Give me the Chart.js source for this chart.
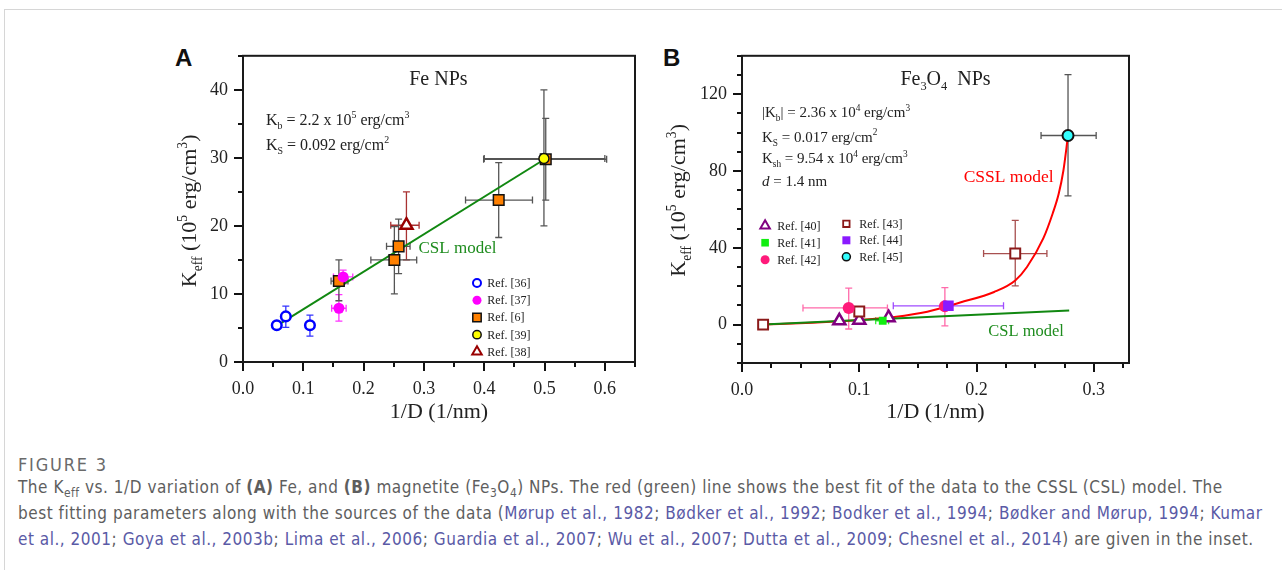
<!DOCTYPE html>
<html>
<head>
<meta charset="utf-8">
<script src="https://cdn.jsdelivr.net/npm/chart.js@4.4.0/dist/chart.umd.min.js"></script>
<style>
  body { margin: 0; width: 1282px; height: 570px; background: #fff; overflow: hidden; position: relative; }
  #frame { position: absolute; left: 4px; top: 9px; right: 0; bottom: 0; border-top: 1px solid #d6d6d6; border-left: 1px solid #d6d6d6; }
  .box { position: absolute; top: 30px; height: 410px; }
  #boxA { left: 160px; width: 500px; }
  #boxB { left: 650px; width: 500px; }
  .lett { position: absolute; font: bold 24px "Liberation Sans", Arial, sans-serif; color: #111; }
  .cap { position: absolute; left: 18px; white-space: nowrap; font-family: "Liberation Sans Narrow", "DejaVu Sans Condensed", "Liberation Sans", sans-serif; font-size: 17px; line-height: 26px; color: #5e5e5e; }
  .cap a { color: #5a5aa6; text-decoration: none; }
  .cap sub { font-size: 0.7em; line-height: 0; }
</style>
</head>
<body>
<div id="frame"></div>
<div class="lett" style="left:175px;top:44px">A</div>
<div class="lett" style="left:663px;top:44px">B</div>
<div class="box" id="boxA"><canvas id="chartA"></canvas></div>
<div class="box" id="boxB"><canvas id="chartB"></canvas></div>

<div class="cap" id="cap0" style="top:452px;color:#6a6a6a;font-size:18px">FIGURE 3</div>
<div class="cap" id="cap1" style="top:474px">The K<sub>eff</sub> vs. 1/D variation of <b>(A)</b> Fe, and <b>(B)</b> magnetite (Fe<sub>3</sub>O<sub>4</sub>) NPs. The red (green) line shows the best fit of the data to the CSSL (CSL) model. The</div>
<div class="cap" id="cap2" style="top:500px">best fitting parameters along with the sources of the data (<a>Mørup et al., 1982</a>; <a>Bødker et al., 1992</a>; <a>Bodker et al., 1994</a>; <a>Bødker and Mørup, 1994</a>; <a>Kumar</a></div>
<div class="cap" id="cap3" style="top:526px"><a>et al., 2001</a>; <a>Goya et al., 2003b</a>; <a>Lima et al., 2006</a>; <a>Guardia et al., 2007</a>; <a>Wu et al., 2007</a>; <a>Dutta et al., 2009</a>; <a>Chesnel et al., 2014</a>) are given in the inset.</div>

<script>
// ---------- panel A : Fe NPs ----------
const ref36X = [0.056, 0.071, 0.111];
const ref36Y = [5.4, 6.7, 5.4];
const ref36YLo = [null, 5.1, 3.8];
const ref36YHi = [null, 8.2, 6.9];

const ref37X = [0.159, 0.166];
const ref37Y = [7.9, 12.5];
const ref37YLo = [6.0, 11.5];
const ref37YHi = [9.9, 13.5];
const ref37XLo = [0.147, 0.150];
const ref37XHi = [0.171, 0.182];

const ref6X = [0.159, 0.251, 0.258, 0.424, 0.502];
const ref6Y = [11.9, 15.0, 17.0, 23.8, 29.8];
const ref6YLo = [9.0, 10.0, 13.0, 18.3, 23.8];
const ref6YHi = [15.0, 19.9, 21.0, 29.3, 35.8];
const ref6XLo = [0.146, 0.212, 0.238, 0.369, 0.399];
const ref6XHi = [0.174, 0.288, 0.277, 0.480, 0.603];

const ref39X = [0.499];
const ref39Y = [29.9];
const ref39YLo = [20.0];
const ref39YHi = [40.0];
const ref39XLo = [0.400];
const ref39XHi = [0.600];

const ref38X = [0.271];
const ref38Y = [20.1];
const ref38YLo = [15.0];
const ref38YHi = [25.0];
const ref38XLo = [0.245];
const ref38XHi = [0.292];

const cslAX = [0.061, 0.5];
const cslAY = [5.6, 29.8];

// ---------- panel B : Fe3O4 NPs ----------
const ref40X = [0.083, 0.100, 0.125];
const ref40Y = [2.0, 2.3, 3.6];

const ref41X = [0.120];
const ref41Y = [2.0];
const ref41XLo = [0.114];
const ref41XHi = [0.125];

const ref42X = [0.091, 0.173];
const ref42Y = [8.7, 9.5];
const ref42YLo = [-2.3, -0.7];
const ref42YHi = [19.0, 19.3];
const ref42XLo = [0.052, null];
const ref42XHi = [0.124, null];

const ref43X = [0.018, 0.100, 0.233];
const ref43Y = [0.0, 6.8, 37.0];
const ref43YLo = [null, null, 20.2];
const ref43YHi = [null, null, 54.3];
const ref43XLo = [null, null, 0.206];
const ref43XHi = [null, null, 0.260];

const ref44X = [0.176];
const ref44Y = [9.8];
const ref44XLo = [0.129];
const ref44XHi = [0.223];

const ref45X = [0.278];
const ref45Y = [98.5];
const ref45YLo = [67.0];
const ref45YHi = [130.2];
const ref45XLo = [0.255];
const ref45XHi = [0.302];

const cslBX = [0.018, 0.279];
const cslBY = [0.0, 7.3];

const csslX = [0.018, 0.06, 0.10, 0.13, 0.158, 0.186, 0.215, 0.233, 0.243, 0.257, 0.265, 0.270, 0.274, 0.278];
const csslY = [0.0, 1.0, 2.4, 4.0, 6.7, 11.5, 17.0, 23.0, 30.0, 45.0, 58.0, 68.0, 80.0, 98.5];

// ---------- helpers ----------
const SERIF = "'Liberation Serif', 'Times New Roman', serif";
Chart.defaults.font.family = SERIF;
Chart.defaults.color = '#222';

function pts(xs, ys) {
  return xs.map((x, i) => ({ x: x, y: ys[i] }));
}

function richText(ctx, parts, x, y, size, align, color) {
  const segs = parts.map(p => {
    const k = p[1];
    const small = k === 'sub' || k === 'sup';
    const font = (k === 'i' ? 'italic ' : '') + (small ? size * 0.62 : size) + 'px ' + SERIF;
    ctx.font = font;
    return { t: p[0], font: font, w: ctx.measureText(p[0]).width,
             dy: k === 'sub' ? size * 0.25 : k === 'sup' ? -size * 0.42 : 0 };
  });
  const total = segs.reduce((s, g) => s + g.w, 0);
  let cx = align === 'center' ? x - total / 2 : x;
  const base = y + size * 0.33;
  ctx.fillStyle = color;
  ctx.textAlign = 'left';
  ctx.textBaseline = 'alphabetic';
  segs.forEach(g => { ctx.font = g.font; ctx.fillText(g.t, cx, base + g.dy); cx += g.w; });
}

function marker(ctx, m, x, y) {
  ctx.beginPath();
  if (m.style === 'circle') ctx.arc(x, y, m.r, 0, Math.PI * 2);
  else if (m.style === 'rect') ctx.rect(x - m.r, y - m.r, m.r * 2, m.r * 2);
  else {
    ctx.moveTo(x, y - m.r);
    ctx.lineTo(x + m.r * 0.866, y + m.r * 0.5);
    ctx.lineTo(x - m.r * 0.866, y + m.r * 0.5);
    ctx.closePath();
  }
  if (m.fill) { ctx.fillStyle = m.fill; ctx.fill(); }
  if (m.lw) { ctx.lineWidth = m.lw; ctx.strokeStyle = m.stroke; ctx.stroke(); }
}

// error bars under the markers
const errorBars = {
  id: 'errorBars',
  beforeDatasetsDraw(chart) {
    const { ctx, scales: { x, y } } = chart;
    const cap = 3.5;
    ctx.save();
    ctx.lineWidth = 1.3;
    chart.data.datasets.forEach(ds => {
      const e = ds.err;
      if (!e) return;
      ctx.strokeStyle = e.color;
      ctx.beginPath();
      ds.data.forEach((p, i) => {
        const px = x.getPixelForValue(p.x), py = y.getPixelForValue(p.y);
        if (e.yLo && e.yLo[i] != null) {
          const a = y.getPixelForValue(e.yLo[i]), b = y.getPixelForValue(e.yHi[i]);
          ctx.moveTo(px, a); ctx.lineTo(px, b);
          ctx.moveTo(px - cap, a); ctx.lineTo(px + cap, a);
          ctx.moveTo(px - cap, b); ctx.lineTo(px + cap, b);
        }
        if (e.xLo && e.xLo[i] != null) {
          const a = x.getPixelForValue(e.xLo[i]), b = x.getPixelForValue(e.xHi[i]);
          ctx.moveTo(a, py); ctx.lineTo(b, py);
          ctx.moveTo(a, py - cap); ctx.lineTo(a, py + cap);
          ctx.moveTo(b, py - cap); ctx.lineTo(b, py + cap);
        }
      });
      ctx.stroke();
    });
    ctx.restore();
  }
};

// box frame + major/minor ticks
const frame = {
  id: 'frame',
  afterDatasetsDraw(chart, args, o) {
    const { ctx, chartArea: a, scales } = chart;
    ctx.save();
    ctx.strokeStyle = '#111';
    ctx.lineWidth = 2;
    ctx.beginPath();
    const run = (sc, step, major, horiz) => {
      const n = Math.floor((sc.max - sc.min) / step + 1e-6);
      for (let i = 0; i <= n; i++) {
        const v = sc.min + i * step;
        const len = Math.abs(v / major - Math.round(v / major)) < 1e-6 ? 9 : 5;
        const p = Math.round(sc.getPixelForValue(v));
        if (horiz) { ctx.moveTo(p, a.bottom); ctx.lineTo(p, a.bottom + len); }
        else { ctx.moveTo(a.left, p); ctx.lineTo(a.left - len, p); }
      }
    };
    run(scales.x, o.xMinor, o.xMajor, true);
    run(scales.y, o.yMinor, o.yMajor, false);
    ctx.stroke();
    ctx.strokeStyle = '#1a1a1a';
    ctx.strokeRect(a.left, a.top, a.right - a.left, a.bottom - a.top);
    ctx.restore();
  }
};

// texts, inset legend and rotated y title
const notes = {
  id: 'notes',
  afterDraw(chart, args, o) {
    const { ctx, chartArea: a, scales: { x, y } } = chart;
    ctx.save();
    (o.texts || []).forEach(t => {
      richText(ctx, t.parts, x.getPixelForValue(t.x), y.getPixelForValue(t.y), t.size, t.align || 'left', t.color || '#222');
    });
    (o.legend || []).forEach(col => {
      col.items.forEach((it, i) => {
        const py = y.getPixelForValue(col.y) + i * col.step;
        marker(ctx, it.m, x.getPixelForValue(col.mx), py);
        richText(ctx, [[it.label]], x.getPixelForValue(col.tx), py, col.size, 'left', '#222');
      });
    });
    ctx.translate(a.left + o.yTitle.dx, (a.top + a.bottom) / 2 + o.yTitle.dy);
    ctx.rotate(-Math.PI / 2);
    richText(ctx, [['K'], ['eff', 'sub'], [' (10'], ['5', 'sup'], [' erg/cm'], ['3', 'sup'], [')']], 0, 0, 22, 'center', '#222');
    ctx.restore();
  }
};

function axes(xMin, xMax, xStep, xLab, yMin, yMax, yStep, yLab, yWidth, xHeight) {
  return {
    x: {
      type: 'linear', min: xMin, max: xMax,
      grid: { display: false, drawTicks: false }, border: { display: false },
      ticks: { stepSize: xStep, autoSkip: false, maxRotation: 0, padding: 16, font: { size: 18 }, color: '#222', callback: xLab },
      title: { display: true, text: '1/D (1/nm)', font: { size: 22 }, color: '#222', padding: { top: 0, bottom: 15 } },
      afterFit: s => { s.height = xHeight; }
    },
    y: {
      type: 'linear', min: yMin, max: yMax,
      grid: { display: false, drawTicks: false }, border: { display: false },
      ticks: { stepSize: yStep, autoSkip: false, padding: 15, font: { size: 18 }, color: '#222', callback: yLab },
      afterFit: s => { s.width = yWidth; }
    }
  };
}

const tenth = v => Math.abs(v * 10 - Math.round(v * 10)) < 1e-6 ? v.toFixed(1) : '';

// ---------- chart A ----------
new Chart(document.getElementById('chartA'), {
  type: 'scatter',
  data: {
    datasets: [
      { data: pts(ref39X, ref39Y), pointStyle: 'circle', pointRadius: 5, backgroundColor: '#ffff00', borderColor: '#111', borderWidth: 1.5,
        err: { xLo: ref39XLo, xHi: ref39XHi, yLo: ref39YLo, yHi: ref39YHi, color: '#555' } },
      { data: pts(ref38X, ref38Y), pointStyle: 'triangle', pointRadius: 7, backgroundColor: '#fff', borderColor: '#990000', borderWidth: 2.5,
        err: { xLo: ref38XLo, xHi: ref38XHi, yLo: ref38YLo, yHi: ref38YHi, color: '#a83232' } },
      { data: pts(ref37X, ref37Y), pointStyle: 'circle', pointRadius: 5.5, backgroundColor: '#ff00ff', borderColor: '#ff00ff', borderWidth: 0,
        err: { xLo: ref37XLo, xHi: ref37XHi, yLo: ref37YLo, yHi: ref37YHi, color: '#ff33ff' } },
      { data: pts(ref6X, ref6Y), pointStyle: 'rect', pointRadius: 7.5, backgroundColor: '#ff8000', borderColor: '#111', borderWidth: 1.5,
        err: { xLo: ref6XLo, xHi: ref6XHi, yLo: ref6YLo, yHi: ref6YHi, color: '#555' } },
      { data: pts(ref36X, ref36Y), pointStyle: 'circle', pointRadius: 4.8, backgroundColor: '#fff', borderColor: '#0000ff', borderWidth: 2.5,
        err: { yLo: ref36YLo, yHi: ref36YHi, color: '#3333ff' } },
      { data: pts(cslAX, cslAY), showLine: true, pointRadius: 0, borderColor: '#118811', borderWidth: 2 }
    ]
  },
  options: {
    animation: false, responsive: true, maintainAspectRatio: false, events: [],
    layout: { padding: { top: 14, right: 25, bottom: 0, left: 0 } },
    scales: axes(0, 0.65, 0.05, tenth, 0, 45, 5, v => v % 10 === 0 ? v : '', 83, 78),
    plugins: {
      legend: { display: false }, tooltip: { enabled: false },
      frame: { xMinor: 0.05, xMajor: 0.1, yMinor: 5, yMajor: 10 },
      notes: {
        yTitle: { dx: -54, dy: 2 },
        texts: [
          { x: 0.324, y: 41.7, size: 20, align: 'center', parts: [['Fe NPs']] },
          { x: 0.038, y: 35.6, size: 16, parts: [['K'], ['b', 'sub'], [' = 2.2 x 10'], ['5', 'sup'], [' erg/cm'], ['3', 'sup']] },
          { x: 0.038, y: 32.0, size: 16, parts: [['K'], ['S', 'sub'], [' = 0.092 erg/cm'], ['2', 'sup']] },
          { x: 0.291, y: 16.8, size: 17, color: '#1e8c1e', parts: [['CSL model']] }
        ],
        legend: [
          { mx: 0.388, tx: 0.405, y: 11.6, step: 17.2, size: 12, items: [
            { label: 'Ref. [36]', m: { style: 'circle', r: 4, fill: '#fff', stroke: '#0000ff', lw: 2 } },
            { label: 'Ref. [37]', m: { style: 'circle', r: 4.5, fill: '#ff00ff' } },
            { label: 'Ref. [6]', m: { style: 'rect', r: 4.2, fill: '#ff8000', stroke: '#111', lw: 1.5 } },
            { label: 'Ref. [39]', m: { style: 'circle', r: 4.2, fill: '#ffff00', stroke: '#111', lw: 1.5 } },
            { label: 'Ref. [38]', m: { style: 'triangle', r: 5.5, fill: '#fff', stroke: '#990000', lw: 2 } }
          ] }
        ]
      }
    }
  },
  plugins: [errorBars, frame, notes]
});

// ---------- chart B ----------
new Chart(document.getElementById('chartB'), {
  type: 'scatter',
  data: {
    datasets: [
      { data: pts(ref45X, ref45Y), pointStyle: 'circle', pointRadius: 5.5, backgroundColor: '#33ffff', borderColor: '#111', borderWidth: 2,
        err: { xLo: ref45XLo, xHi: ref45XHi, yLo: ref45YLo, yHi: ref45YHi, color: '#555' } },
      { data: pts(ref44X, ref44Y), pointStyle: 'rect', pointRadius: 7.5, backgroundColor: '#8a1aff', borderColor: '#8a1aff', borderWidth: 0,
        err: { xLo: ref44XLo, xHi: ref44XHi, color: '#a04cff' } },
      { data: pts(ref42X, ref42Y), pointStyle: 'circle', pointRadius: 6, backgroundColor: '#ff1a7a', borderColor: '#ff1a7a', borderWidth: 0,
        err: { xLo: ref42XLo, xHi: ref42XHi, yLo: ref42YLo, yHi: ref42YHi, color: '#ff6aaa' } },
      { data: pts(ref43X, ref43Y), pointStyle: 'rect', pointRadius: 7, backgroundColor: '#fff', borderColor: '#8b1a1a', borderWidth: 2,
        err: { xLo: ref43XLo, xHi: ref43XHi, yLo: ref43YLo, yHi: ref43YHi, color: '#a85050' } },
      { data: pts(ref41X, ref41Y), pointStyle: 'rect', pointRadius: 5.5, backgroundColor: '#11ee11', borderColor: '#11ee11', borderWidth: 0,
        err: { xLo: ref41XLo, xHi: ref41XHi, color: '#33ee33' } },
      { data: pts(ref40X, ref40Y), pointStyle: 'triangle', pointRadius: 7, backgroundColor: '#fff', borderColor: '#800080', borderWidth: 2.5 },
      { data: pts(cslBX, cslBY), showLine: true, pointRadius: 0, borderColor: '#118811', borderWidth: 2 },
      { data: pts(csslX, csslY), showLine: true, pointRadius: 0, borderColor: '#ff0000', borderWidth: 2, cubicInterpolationMode: 'monotone' }
    ]
  },
  options: {
    animation: false, responsive: true, maintainAspectRatio: false, events: [],
    layout: { padding: { top: 13, right: 21, bottom: 0, left: 0 } },
    scales: axes(0, 0.33, 0.025, tenth, -20, 140, 10, v => v % 40 === 0 ? v : '', 92, 77),
    plugins: {
      legend: { display: false }, tooltip: { enabled: false },
      frame: { xMinor: 0.025, xMajor: 0.1, yMinor: 10, yMajor: 40 },
      notes: {
        yTitle: { dx: -64, dy: -9 },
        texts: [
          { x: 0.1735, y: 128, size: 20, align: 'center', parts: [['Fe'], ['3', 'sub'], ['O'], ['4', 'sub'], ['  NPs']] },
          { x: 0.017, y: 110.6, size: 15, parts: [['|K'], ['b', 'sub'], ['| = 2.36 x 10'], ['4', 'sup'], [' erg/cm'], ['3', 'sup']] },
          { x: 0.017, y: 97.8, size: 15, parts: [['K'], ['S', 'sub'], [' = 0.017 erg/cm'], ['2', 'sup']] },
          { x: 0.017, y: 86.5, size: 15, parts: [['K'], ['sh', 'sub'], [' = 9.54 x 10'], ['4', 'sup'], [' erg/cm'], ['3', 'sup']] },
          { x: 0.017, y: 74.8, size: 15, parts: [['d', 'i'], [' = 1.4 nm']] },
          { x: 0.189, y: 77.5, size: 17.5, color: '#ff0000', parts: [['CSSL model']] },
          { x: 0.210, y: -3.0, size: 16.5, color: '#1e8c1e', parts: [['CSL model']] }
        ],
        legend: [
          { mx: 0.0197, tx: 0.030, y: 51.5, step: 17, size: 12, items: [
            { label: 'Ref. [40]', m: { style: 'triangle', r: 5.5, fill: '#fff', stroke: '#800080', lw: 2 } },
            { label: 'Ref. [41]', m: { style: 'rect', r: 3.8, fill: '#11ee11' } },
            { label: 'Ref. [42]', m: { style: 'circle', r: 4.5, fill: '#ff1a7a' } }
          ] },
          { mx: 0.089, tx: 0.100, y: 52.5, step: 16.5, size: 12, items: [
            { label: 'Ref. [43]', m: { style: 'rect', r: 3.2, fill: '#fff', stroke: '#8b1a1a', lw: 1.8 } },
            { label: 'Ref. [44]', m: { style: 'rect', r: 4, fill: '#8a1aff' } },
            { label: 'Ref. [45]', m: { style: 'circle', r: 4, fill: '#33ffff', stroke: '#111', lw: 1.5 } }
          ] }
        ]
      }
    }
  },
  plugins: [errorBars, frame, notes]
});

// stretch caption lines to the reference line lengths
const capRight = { cap0: 106, cap1: 1222, cap2: 1262, cap3: 1253 };
Object.keys(capRight).forEach(id => {
  const el = document.getElementById(id);
  const w = el.getBoundingClientRect().width;
  const n = el.textContent.length - 1;
  el.style.letterSpacing = ((capRight[id] - 18 - w) / n) + 'px';
});
</script>
</body>
</html>
